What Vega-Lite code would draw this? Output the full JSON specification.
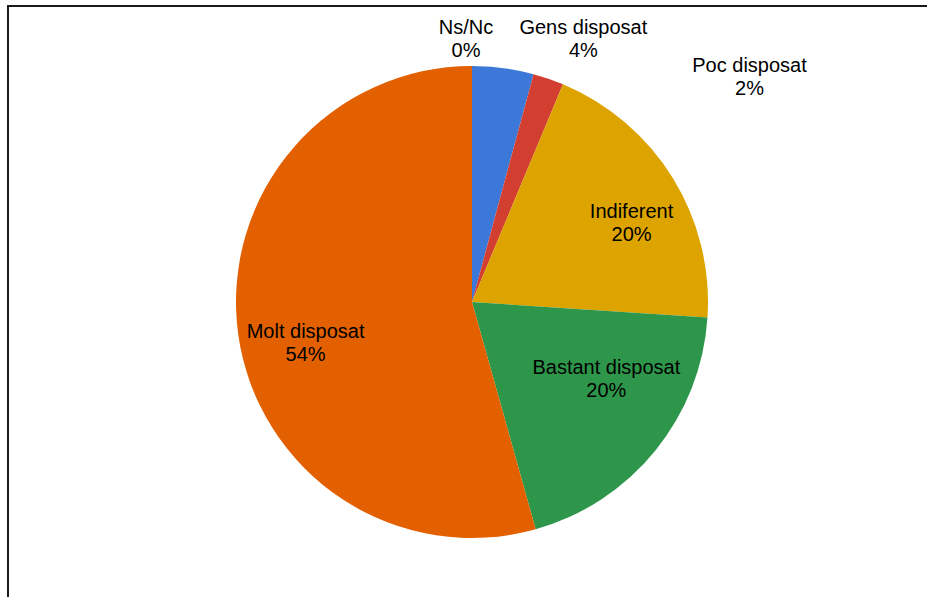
{
  "$schema": "https://vega.github.io/schema/vega-lite/v6.json",
  "width": 928,
  "height": 592,
  "autosize": {"type": "none"},
  "padding": {"left": 8, "top": 6, "right": 0, "bottom": 0},
  "background": "white",
  "view": {"stroke": "#1a1a1a", "strokeWidth": 2, "fill": null},
  "config": {
    "view": {"stroke": "#1a1a1a", "strokeWidth": 2},
    "text": {"font": "Liberation Sans", "fontSize": 20, "lineHeight": 23, "lineBreak": "\n", "align": "center", "baseline": "middle", "color": "#000000"}
  },
  "data": {
    "values": [
      {"o": 1, "cat": "Ns/Nc", "value": 0, "label": "Ns/Nc\n0%"},
      {"o": 2, "cat": "Gens disposat", "value": 4.2, "label": "Gens disposat\n4%"},
      {"o": 3, "cat": "Poc disposat", "value": 2.1, "label": "Poc disposat\n2%"},
      {"o": 4, "cat": "Indiferent", "value": 19.75, "label": "Indiferent\n20%"},
      {"o": 5, "cat": "Bastant disposat", "value": 19.6, "label": "Bastant disposat\n20%"},
      {"o": 6, "cat": "Molt disposat", "value": 54.35, "label": "Molt disposat\n54%"}
    ]
  },
  "encoding": {
    "theta": {"field": "value", "type": "quantitative", "stack": true},
    "order": {"field": "o", "type": "quantitative"}
  },
  "layer": [
    {
      "mark": {"type": "arc", "radius": 236},
      "encoding": {
        "color": {
          "field": "cat",
          "type": "nominal",
          "scale": {
            "domain": ["Ns/Nc", "Gens disposat", "Poc disposat", "Indiferent", "Bastant disposat", "Molt disposat"],
            "range": ["#7f7f7f", "#3C78D8", "#D23F31", "#DDA400", "#2E964A", "#E26000"]
          },
          "legend": null
        }
      }
    },
    {
      "mark": {"type": "text", "radius": 262.5, "dx": -6, "dy": -11.5},
      "encoding": {"text": {"condition": {"test": "datum.cat === 'Ns/Nc'", "field": "label"}, "value": ""}}
    },
    {
      "mark": {"type": "text", "radius": 265, "dx": 76.5, "dy": -11.5},
      "encoding": {"text": {"condition": {"test": "datum.cat === 'Gens disposat'", "field": "label"}, "value": ""}}
    },
    {
      "mark": {"type": "text", "radius": 237.8, "dx": 200.5, "dy": -11.5},
      "encoding": {"text": {"condition": {"test": "datum.cat === 'Poc disposat'", "field": "label"}, "value": ""}}
    },
    {
      "mark": {"type": "text", "radius": 178, "dx": 8.2, "dy": 3.7},
      "encoding": {"text": {"condition": {"test": "datum.cat === 'Indiferent'", "field": "label"}, "value": ""}}
    },
    {
      "mark": {"type": "text", "radius": 155, "dx": 14, "dy": -32},
      "encoding": {"text": {"condition": {"test": "datum.cat === 'Bastant disposat'", "field": "label"}, "value": ""}}
    },
    {
      "mark": {"type": "text", "radius": 171, "dx": 3, "dy": 7},
      "encoding": {"text": {"condition": {"test": "datum.cat === 'Molt disposat'", "field": "label"}, "value": ""}}
    }
  ]
}
